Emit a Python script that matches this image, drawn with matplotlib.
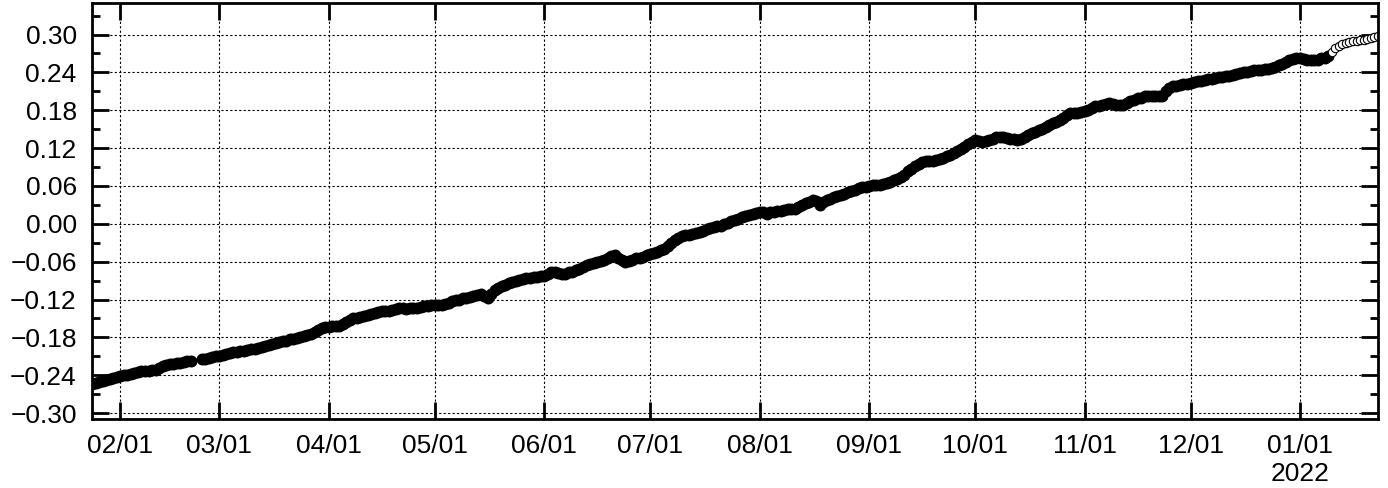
import numpy as np
import pandas as pd
import matplotlib
matplotlib.use("Agg")
import matplotlib.pyplot as plt
import matplotlib.dates as mdates
from matplotlib.ticker import MultipleLocator, FuncFormatter

plt.rcParams['font.family'] = ['Liberation Sans', 'DejaVu Sans']

# daily values, one list per month (nan = no data)
nan = np.nan
start_date = "2021-01-24"
jan21 = [-0.254, -0.252, -0.251, -0.249, -0.248, -0.246, -0.245, -0.243]
feb21 = [-0.242, -0.240, -0.239, -0.238, -0.236, -0.235, -0.234, -0.233, -0.233, -0.232,
         -0.231, -0.229, -0.226, -0.224, -0.222, -0.222, -0.221, -0.220, -0.219, -0.218,
         -0.217, nan, nan, -0.215, -0.214, -0.213, -0.211, -0.210]
mar21 = [-0.209, -0.208, -0.207, -0.205, -0.204, -0.203, -0.202, -0.201, -0.200, -0.199,
         -0.198, -0.197, -0.195, -0.194, -0.192, -0.190, -0.189, -0.188, -0.186, -0.185,
         -0.183, -0.182, -0.181, -0.179, -0.178, -0.176, -0.174, -0.171, -0.168, -0.165,
         -0.164]
apr21 = [-0.163, -0.162, -0.162, -0.162, -0.159, -0.156, -0.153, -0.150, -0.149, -0.147,
         -0.146, -0.145, -0.143, -0.141, -0.140, -0.139, -0.138, -0.138, -0.137, -0.135,
         -0.133, -0.134, -0.135, -0.134, -0.134, -0.133, -0.132, -0.131, -0.130, -0.129]
may21 = [-0.129, -0.129, -0.129, -0.127, -0.125, -0.123, -0.121, -0.120, -0.118, -0.117,
         -0.116, -0.115, -0.113, -0.112, -0.115, -0.118, -0.112, -0.105, -0.101, -0.099,
         -0.097, -0.094, -0.092, -0.090, -0.089, -0.088, -0.086, -0.086, -0.085, -0.084,
         -0.083]
jun21 = [-0.083, -0.080, -0.077, -0.076, -0.078, -0.080, -0.079, -0.077, -0.076, -0.074,
         -0.071, -0.068, -0.066, -0.064, -0.062, -0.061, -0.059, -0.057, -0.054, -0.051,
         -0.050, -0.054, -0.058, -0.060, -0.059, -0.057, -0.055, -0.054, -0.052, -0.050]
jul21 = [-0.048, -0.046, -0.044, -0.042, -0.040, -0.035, -0.030, -0.026, -0.022, -0.019,
         -0.018, -0.017, -0.016, -0.015, -0.013, -0.011, -0.009, -0.007, -0.005, -0.004,
         -0.003, -0.001, 0.001, 0.004, 0.006, 0.008, 0.010, 0.012, 0.014, 0.015,
         0.017]
aug21 = [0.018, 0.018, 0.016, 0.018, 0.019, 0.020, 0.021, 0.022, 0.023, 0.024,
         0.024, 0.026, 0.030, 0.033, 0.035, 0.038, 0.036, 0.030, 0.034, 0.038,
         0.040, 0.042, 0.044, 0.046, 0.048, 0.050, 0.052, 0.054, 0.056, 0.058,
         0.059]
sep21 = [0.060, 0.061, 0.062, 0.062, 0.063, 0.065, 0.067, 0.069, 0.071, 0.074,
         0.078, 0.083, 0.087, 0.091, 0.095, 0.098, 0.099, 0.100, 0.100, 0.101,
         0.103, 0.105, 0.107, 0.109, 0.112, 0.115, 0.118, 0.122, 0.126, 0.130]
oct21 = [0.133, 0.131, 0.130, 0.131, 0.133, 0.135, 0.137, 0.138, 0.137, 0.136,
         0.135, 0.134, 0.133, 0.135, 0.138, 0.141, 0.144, 0.146, 0.148, 0.150,
         0.153, 0.156, 0.159, 0.162, 0.165, 0.168, 0.172, 0.175, 0.176, 0.176,
         0.177]
nov21 = [0.178, 0.180, 0.183, 0.186, 0.187, 0.188, 0.190, 0.191, 0.190, 0.189,
         0.188, 0.188, 0.191, 0.194, 0.197, 0.199, 0.200, 0.202, 0.203, 0.203,
         0.202, 0.202, 0.203, 0.210, 0.216, 0.218, 0.219, 0.220, 0.221, 0.222]
dec21 = [0.223, 0.224, 0.226, 0.227, 0.228, 0.229, 0.230, 0.231, 0.232, 0.233,
         0.234, 0.235, 0.236, 0.237, 0.239, 0.240, 0.241, 0.242, 0.243, 0.243,
         0.244, 0.245, 0.246, 0.247, 0.249, 0.251, 0.254, 0.257, 0.259, 0.261,
         0.262]
jan22 = [0.262, 0.261, 0.260, 0.259, 0.259, 0.260, 0.262, 0.263, 0.266]
# last two weeks drawn as open circles
jan22_open = [0.272, 0.278, 0.282, 0.285, 0.287, 0.288, 0.289, 0.290, 0.291, 0.292,
              0.293, 0.295, 0.296, 0.298]

y_ticks = [-0.30, -0.24, -0.18, -0.12, -0.06, 0.00, 0.06, 0.12, 0.18, 0.24, 0.30]


def main():
    filled = jan21 + feb21 + mar21 + apr21 + may21 + jun21 + jul21 + aug21 + \
        sep21 + oct21 + nov21 + dec21 + jan22
    dates = pd.date_range(start_date, periods=len(filled) + len(jan22_open), freq="D")
    d_filled = dates[:len(filled)]
    d_open = dates[len(filled):]

    fig, ax = plt.subplots(figsize=(13.88, 4.88), dpi=100)
    fig.subplots_adjust(left=0.0663, right=0.9926, top=0.9939, bottom=0.1414)

    ax.plot(d_filled, filled, linestyle="none", marker="o", markersize=8.6,
            color="black", markeredgewidth=0)
    ax.plot(d_open, jan22_open, linestyle="none", marker="o", markersize=6,
            markerfacecolor="white", markeredgecolor="black", markeredgewidth=0.8)

    ax.set_xlim(pd.Timestamp("2021-01-24"), pd.Timestamp("2022-01-23"))
    ax.set_ylim(-0.3094, 0.350)

    ax.set_yticks(y_ticks)
    ax.yaxis.set_minor_locator(MultipleLocator(0.03))
    ax.yaxis.set_major_formatter(FuncFormatter(lambda v, p: f"{v:.2f}".replace("-", "\u2212")))

    ax.xaxis.set_major_locator(mdates.MonthLocator())

    def month_label(x, pos):
        d = mdates.num2date(x)
        s = d.strftime("%m/%d")
        if d.month == 1:
            s += "\n" + str(d.year)
        return s

    ax.xaxis.set_major_formatter(FuncFormatter(month_label))

    ax.tick_params(axis="both", which="both", direction="in", top=True, right=True,
                   width=2, labelsize=19, color="black")
    ax.tick_params(axis="y", which="major", length=12, pad=11)
    ax.tick_params(axis="y", which="minor", length=6)
    ax.tick_params(axis="x", which="major", length=12, pad=11)
    for s in ax.spines.values():
        s.set_linewidth(2)

    ax.grid(True, which="major", color="black", linestyle=(0, (2, 2)), linewidth=0.8)
    ax.set_axisbelow(True)

    plt.savefig("out.png", dpi=100)
    plt.close()


if __name__ == "__main__":
    main()
